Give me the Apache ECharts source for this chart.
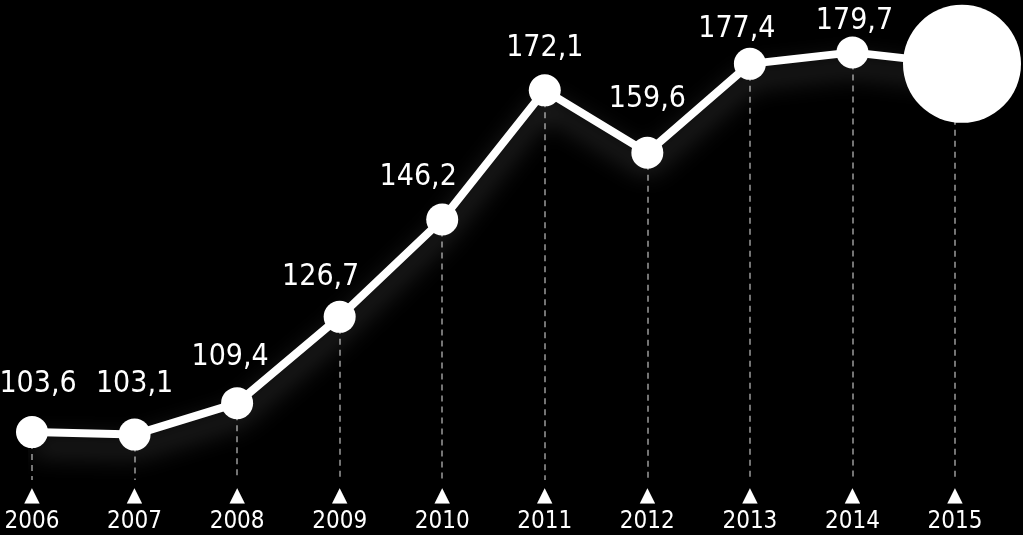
<!DOCTYPE html>
<html>
<head>
<meta charset="utf-8">
<style>
html,body{margin:0;padding:0;background:#000;}
#chart{width:1023px;height:535px;}
</style>
<script src="https://cdn.jsdelivr.net/npm/echarts@6/dist/echarts.min.js"></script>
</head>
<body>
<div id="chart"></div>
<script>
var years = ['2006','2007','2008','2009','2010','2011','2012','2013','2014','2015'];
var values = [103.6, 103.1, 109.4, 126.7, 146.2, 172.1, 159.6, 177.4, 179.7, 177.4];
var labels = ['103,6','103,1','109,4','126,7','146,2','172,1','159,6','177,4','179,7',''];

// label placement tweaks (styling only)
var labelShift = [[6,-6],[0,-8],[-7,-4],[-19,2],[-24,0],[0,0],[0,-11],[-13,7],[2,11],[0,0]];

var FONT = "'DejaVu Sans Condensed','Liberation Sans Narrow','Roboto',sans-serif";
var last = values.length - 1;

var pointData = values.map(function (v, i) {
  var d = { value: v, label: { offset: labelShift[i] } };
  if (i === last) {
    d.symbolSize = 118;
    d.symbolOffset = [7, 0];
    d.label = { show: false };
  }
  return d;
});

var dashData = values.map(function (v, i) {
  return [{ coord: [i, v] }, { coord: [i, 94] }];
});

var chart = echarts.init(document.getElementById('chart'));
chart.setOption({
  backgroundColor: '#000',
  animation: false,
  grid: { left: 32, right: 68, top: 1, height: 479 },
  xAxis: {
    type: 'category',
    data: years,
    boundaryGap: false,
    axisLine: { show: false },
    axisTick: { show: false },
    splitLine: { show: false },
    axisLabel: {
      margin: 5,
      formatter: function (v) { return '{t|▲}\n{y|' + v + '}'; },
      rich: {
        t: { color: '#fff', fontSize: 20, lineHeight: 22, fontFamily: 'DejaVu Sans' },
        y: { color: '#fff', fontSize: 24, lineHeight: 30, fontFamily: FONT }
      }
    }
  },
  yAxis: {
    type: 'value',
    min: 94,
    max: 190,
    show: false
  },
  series: [
    {
      type: 'line',
      z: 1,
      data: values,
      lineStyle: { opacity: 0 },
      symbol: 'none',
      silent: true,
      markLine: {
        z: 1,
        silent: true,
        symbol: ['none', 'none'],
        label: { show: false },
        lineStyle: { color: '#9a9a9a', width: 1.5, type: [6, 5] },
        data: dashData
      }
    },
    {
      type: 'line',
      z: 3,
      data: pointData,
      symbol: 'circle',
      symbolSize: 32,
      showAllSymbol: true,
      itemStyle: { color: '#fff' },
      lineStyle: {
        color: '#fff',
        width: 8,
        shadowColor: 'rgba(255,255,255,0.3)',
        shadowBlur: 26,
        shadowOffsetY: 14
      },
      label: {
        show: true,
        position: 'top',
        distance: 11,
        color: '#fff',
        fontSize: 30,
        fontFamily: FONT,
        formatter: function (p) { return labels[p.dataIndex]; }
      }
    }
  ]
});
</script>
</body>
</html>
